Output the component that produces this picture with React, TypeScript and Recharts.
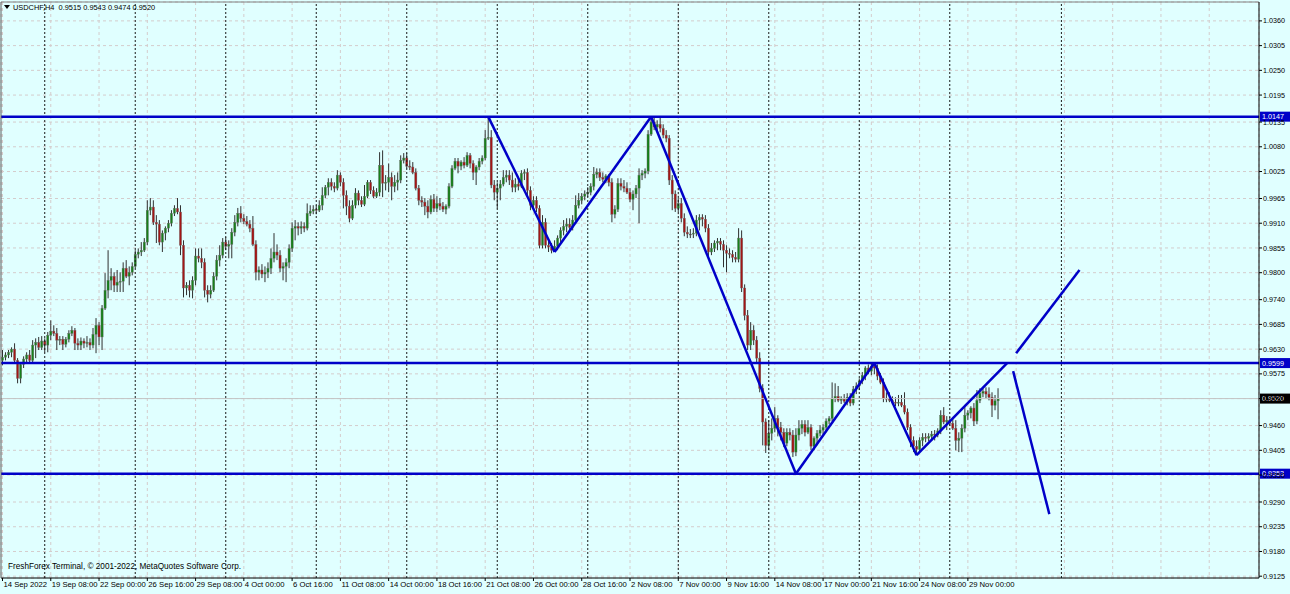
import React from 'react';
import { Bar, CartesianGrid, ComposedChart, ReferenceLine, XAxis, YAxis } from 'recharts';

// USDCHF H4, 14 Sep - 29 Nov 2022. Open of each bar = previous close.
const firstOpen = 0.9605;

const highs = [
  0.9628, 0.9623, 0.9628, 0.9634, 0.9643, 0.961, 0.9601, 0.9614, 0.9623, 0.9628,
  0.965, 0.9654, 0.9657, 0.9659, 0.9654, 0.9668, 0.9694, 0.9683, 0.9677, 0.9659,
  0.9659, 0.9657, 0.9672, 0.9681, 0.9677, 0.9654, 0.9656, 0.9654, 0.9659, 0.9654,
  0.9677, 0.9699, 0.969, 0.9728, 0.9799, 0.985, 0.981, 0.9801, 0.9806, 0.9801,
  0.9823, 0.9828, 0.9814, 0.9823, 0.985, 0.9854, 0.9868, 0.9877, 0.9961, 0.9966,
  0.9961, 0.9928, 0.9917, 0.9894, 0.9903, 0.9917, 0.9939, 0.995, 0.9966, 0.995,
  0.9872, 0.9779, 0.9783, 0.9792, 0.9854, 0.9854, 0.9854, 0.9832, 0.9772, 0.9772,
  0.9801, 0.9839, 0.9861, 0.9877, 0.9879, 0.9872, 0.9899, 0.9928, 0.9944, 0.9948,
  0.993, 0.9926, 0.9917, 0.9926, 0.9872, 0.9814, 0.9819, 0.9814, 0.9823, 0.9854,
  0.9888, 0.9863, 0.985, 0.9823, 0.9832, 0.9863, 0.9912, 0.9917, 0.9912, 0.9914,
  0.9912, 0.9954, 0.995, 0.995, 0.995, 0.9961, 0.999, 0.9995, 1.001, 1.001,
  1.0001, 1.0028, 1.0023, 1.001, 0.9983, 0.9961, 0.9961, 0.9988, 0.9983, 0.997,
  0.9995, 1.0006, 1.0006, 0.9992, 0.9988, 1.0068, 1.0072, 1.0017, 1.0043, 1.0023,
  1.0017, 1.0023, 1.0061, 1.0066, 1.0066, 1.005, 1.0046, 1.0032, 0.9995, 0.997,
  0.9966, 0.9961, 0.9972, 0.9975, 0.997, 0.9966, 0.9957, 0.9952, 0.9999, 1.0039,
  1.0055, 1.0055, 1.005, 1.0057, 1.0068, 1.0066, 1.005, 1.0039, 1.0055, 1.0061,
  1.0117, 1.0147, 1.0117, 1.0006, 1.0001, 1.0006, 1.0028, 1.0028, 1.0028, 1.0023,
  1.001, 1.001, 1.0028, 1.003, 1.0032, 0.9992, 0.997, 0.997, 0.995, 0.9928,
  0.9921, 0.9872, 0.9866, 0.9872, 0.9883, 0.9901, 0.9917, 0.9921, 0.9921, 0.9928,
  0.9972, 0.9977, 0.9977, 0.9983, 0.999, 0.9999, 1.0035, 1.0032, 1.0032, 1.0023,
  1.0019, 1.0019, 1.001, 0.995, 1.001, 1.001, 1.0006, 1.0001, 0.9988, 0.9983,
  0.9995, 1.0032, 1.0028, 1.0032, 1.0117, 1.0147, 1.0144, 1.0139, 1.0146, 1.013,
  1.0117, 1.0106, 1.0017, 0.9983, 0.9966, 0.9966, 0.9932, 0.9903, 0.9897, 0.9899,
  0.9928, 0.993, 0.993, 0.9928, 0.9908, 0.9866, 0.9872, 0.9877, 0.9877, 0.9872,
  0.9861, 0.9854, 0.985, 0.9846, 0.9899, 0.9894, 0.9774, 0.9717, 0.969, 0.9683,
  0.9659, 0.9623, 0.9552, 0.9476, 0.9472, 0.9476, 0.9501, 0.9483, 0.9468, 0.9454,
  0.9454, 0.9454, 0.945, 0.9454, 0.9472, 0.9472, 0.9472, 0.9472, 0.9463, 0.9436,
  0.945, 0.9461, 0.9463, 0.9476, 0.9481, 0.9556, 0.9554, 0.9548, 0.9525, 0.953,
  0.9532, 0.9532, 0.9548, 0.9556, 0.9565, 0.9579, 0.9592, 0.9596, 0.9599, 0.9598,
  0.9596, 0.9577, 0.9565, 0.9534, 0.9534, 0.9525, 0.9523, 0.9528, 0.9528, 0.9534,
  0.9498, 0.9463, 0.9436, 0.9427, 0.9434, 0.9443, 0.9443, 0.9443, 0.9448, 0.945,
  0.9454, 0.9494, 0.9501, 0.9481, 0.9479, 0.9476, 0.9472, 0.9445, 0.9463, 0.9501,
  0.9494, 0.9503, 0.951, 0.9539, 0.9543, 0.9543, 0.9545, 0.9545, 0.9534, 0.9528,
  0.9543,
];

const lows = [
  0.9594, 0.9605, 0.961, 0.9612, 0.9601, 0.9554, 0.9554, 0.9588, 0.9601, 0.9601,
  0.9601, 0.961, 0.9628, 0.9628, 0.9623, 0.9623, 0.965, 0.9659, 0.9628, 0.9639,
  0.9628, 0.9634, 0.9645, 0.9659, 0.9628, 0.9628, 0.9628, 0.9632, 0.9634, 0.9628,
  0.9632, 0.9621, 0.9639, 0.9628, 0.9717, 0.9743, 0.9761, 0.9757, 0.9757, 0.9757,
  0.9757, 0.9788, 0.9772, 0.9794, 0.981, 0.9832, 0.9837, 0.9846, 0.9861, 0.9928,
  0.9906, 0.9866, 0.9861, 0.9846, 0.9872, 0.989, 0.9903, 0.9926, 0.993, 0.9839,
  0.9745, 0.975, 0.9745, 0.9743, 0.9772, 0.9823, 0.981, 0.9745, 0.9734, 0.9743,
  0.9757, 0.9783, 0.9814, 0.9832, 0.985, 0.9832, 0.9832, 0.9881, 0.9903, 0.9912,
  0.9908, 0.9903, 0.989, 0.9859, 0.9783, 0.9783, 0.9788, 0.9779, 0.9788, 0.9797,
  0.9823, 0.9828, 0.9801, 0.9783, 0.9779, 0.981, 0.9846, 0.9872, 0.9883, 0.9886,
  0.989, 0.9894, 0.9926, 0.993, 0.993, 0.9935, 0.9939, 0.9966, 0.9972, 0.9983,
  0.9979, 0.9983, 0.9992, 0.9943, 0.9928, 0.9912, 0.9917, 0.9943, 0.995, 0.9946,
  0.9948, 0.9966, 0.9975, 0.9966, 0.9966, 0.997, 0.9968, 0.9983, 0.9979, 0.9961,
  0.9979, 0.9983, 0.9999, 1.0043, 1.0032, 1.0028, 1.0019, 0.9983, 0.995, 0.9946,
  0.9928, 0.9921, 0.993, 0.9935, 0.9935, 0.9939, 0.9935, 0.993, 0.9943, 0.9988,
  1.0028, 1.0021, 1.0028, 1.0032, 1.0035, 1.0032, 1.0006, 0.9995, 1.0028, 1.0041,
  1.005, 1.0095, 0.9988, 0.9961, 0.9943, 0.9961, 0.9992, 1.0001, 0.9995, 0.9979,
  0.9979, 0.9983, 0.9988, 1.0006, 0.9972, 0.9939, 0.9939, 0.9935, 0.9854, 0.9854,
  0.9854, 0.9846, 0.9843, 0.9846, 0.985, 0.9868, 0.9883, 0.989, 0.9894, 0.9894,
  0.9908, 0.9943, 0.9952, 0.9961, 0.9968, 0.9972, 0.9983, 1.001, 1.0004, 1.0001,
  0.9999, 0.9992, 0.9912, 0.9921, 0.9935, 0.9983, 0.9979, 0.9975, 0.9957, 0.9939,
  0.9966, 0.991, 1.0006, 1.001, 1.0019, 1.0104, 1.0117, 1.0112, 1.0112, 1.0099,
  1.009, 0.9995, 0.9939, 0.9935, 0.9935, 0.9912, 0.9881, 0.9877, 0.9877, 0.9877,
  0.9881, 0.9894, 0.9903, 0.989, 0.9834, 0.9839, 0.9846, 0.985, 0.985, 0.9812,
  0.9801, 0.9832, 0.9823, 0.9823, 0.9823, 0.9757, 0.9694, 0.9628, 0.9628, 0.9639,
  0.9601, 0.9534, 0.9416, 0.9399, 0.9405, 0.9427, 0.9445, 0.9436, 0.9427, 0.9412,
  0.9414, 0.9427, 0.939, 0.9392, 0.9427, 0.9441, 0.9436, 0.9441, 0.9405, 0.9405,
  0.9416, 0.9436, 0.9441, 0.9445, 0.9463, 0.947, 0.9512, 0.9512, 0.9508, 0.951,
  0.9505, 0.9503, 0.9505, 0.953, 0.9539, 0.9552, 0.9561, 0.9574, 0.9572, 0.9574,
  0.9561, 0.9552, 0.9512, 0.9512, 0.9512, 0.9507, 0.9503, 0.9503, 0.9501, 0.9485,
  0.945, 0.9412, 0.9401, 0.9394, 0.9403, 0.9414, 0.9423, 0.9425, 0.9427, 0.9427,
  0.9434, 0.9441, 0.9463, 0.945, 0.9459, 0.945, 0.9405, 0.9401, 0.9401, 0.9445,
  0.9472, 0.9476, 0.9459, 0.9463, 0.951, 0.9523, 0.9521, 0.9516, 0.9479, 0.9494,
  0.9474,
];

const closes = [
  0.9612, 0.9617, 0.9623, 0.963, 0.9605, 0.9565, 0.9596, 0.9608, 0.9617, 0.9605,
  0.9639, 0.9645, 0.9634, 0.9648, 0.9639, 0.9661, 0.967, 0.9665, 0.965, 0.9652,
  0.9641, 0.9652, 0.9665, 0.9672, 0.9643, 0.9639, 0.9648, 0.9643, 0.9645, 0.9639,
  0.9663, 0.9683, 0.9657, 0.9721, 0.9761, 0.9783, 0.9792, 0.9772, 0.9779, 0.9781,
  0.981, 0.9792, 0.9801, 0.9814, 0.9841, 0.9846, 0.985, 0.9868, 0.9939, 0.9946,
  0.9912, 0.9908, 0.9868, 0.9888, 0.9899, 0.991, 0.9932, 0.9943, 0.9935, 0.9861,
  0.9766, 0.9772, 0.9761, 0.9783, 0.9837, 0.9832, 0.9823, 0.9761, 0.9752, 0.9761,
  0.9792, 0.9828, 0.9839, 0.9868, 0.9859, 0.9863, 0.989, 0.9912, 0.9932, 0.9921,
  0.9914, 0.9908, 0.9899, 0.9863, 0.9801, 0.9806, 0.9797, 0.9801, 0.981, 0.9832,
  0.9846, 0.9839, 0.981, 0.9814, 0.9823, 0.9854, 0.9899, 0.9903, 0.9899, 0.9903,
  0.9899, 0.9932, 0.9937, 0.9941, 0.9939, 0.995, 0.9972, 0.999, 1.0001, 0.9992,
  0.9988, 1.0017, 1.0001, 0.9972, 0.9948, 0.9921, 0.995, 0.9977, 0.9961, 0.9952,
  0.997, 1.0001, 0.9983, 0.997, 0.9979, 1.0039, 0.9999, 1.0001, 1.0012, 0.9992,
  1.0001, 1.0006, 1.005, 1.0055, 1.0037, 1.0035, 1.0023, 0.9988, 0.9961, 0.9957,
  0.9948, 0.9935, 0.9963, 0.9943, 0.9954, 0.9948, 0.9941, 0.9948, 0.9992, 1.0032,
  1.0048, 1.0037, 1.0046, 1.0039, 1.0061, 1.0043, 1.0023, 1.0035, 1.0048, 1.0055,
  1.0099, 1.0101, 0.9995, 0.9979, 0.9988, 0.9997, 1.0012, 1.0017, 1.0006, 0.999,
  0.9997, 0.9992, 1.0021, 1.0023, 0.9983, 0.995, 0.9961, 0.9943, 0.9861, 0.9912,
  0.9861, 0.9857, 0.985, 0.9859, 0.9877, 0.9894, 0.9903, 0.9908, 0.9901, 0.9917,
  0.995, 0.9961, 0.997, 0.9975, 0.9979, 0.9992, 1.0019, 1.0023, 1.0012, 1.0008,
  1.0015, 1.0001, 0.993, 0.9941, 0.9999, 0.9992, 0.9988, 0.9979, 0.9963, 0.9975,
  0.9988, 1.0017, 1.0021, 1.0026, 1.0108, 1.0135, 1.0124, 1.013, 1.0121, 1.0106,
  1.0099, 1.0006, 0.9975, 0.9943, 0.9954, 0.9921, 0.989, 0.9886, 0.9886, 0.9888,
  0.9917, 0.9923, 0.9919, 0.9899, 0.9846, 0.9854, 0.9866, 0.987, 0.9863, 0.985,
  0.9843, 0.9841, 0.9834, 0.983, 0.9877, 0.9766, 0.9705, 0.9639, 0.9672, 0.965,
  0.961, 0.9543, 0.9468, 0.9416, 0.9443, 0.9454, 0.9476, 0.9456, 0.9445, 0.9421,
  0.9445, 0.9439, 0.9401, 0.9439, 0.9454, 0.9463, 0.9445, 0.9456, 0.9414, 0.9432,
  0.9443, 0.945, 0.9456, 0.947, 0.9476, 0.9521, 0.9525, 0.9516, 0.9519, 0.9514,
  0.9523, 0.951, 0.9541, 0.9548, 0.9559, 0.9572, 0.9588, 0.9581, 0.9592, 0.9588,
  0.957, 0.9556, 0.9521, 0.9519, 0.9516, 0.9512, 0.951, 0.9512, 0.9505, 0.949,
  0.9456, 0.9427, 0.9414, 0.9407, 0.9427, 0.9434, 0.9432, 0.9436, 0.9441, 0.9439,
  0.9448, 0.9483, 0.9468, 0.9472, 0.9465, 0.9454, 0.9427, 0.9432, 0.9454, 0.9483,
  0.9488, 0.9499, 0.947, 0.9516, 0.9532, 0.9536, 0.953, 0.9523, 0.9505, 0.9515,
  0.952,
];

// bar slots on the time axis (the right part is the empty chart shift)
const slotCount = 417;
const timeTickIdx = [0, 16, 32, 48, 64, 80, 96, 112, 128, 144, 160, 176, 192, 208, 224, 240, 256, 272, 288, 304, 320];
const timeLabels = [
  '14 Sep 2022', '19 Sep 08:00', '22 Sep 00:00', '26 Sep 16:00', '29 Sep 08:00', '4 Oct 00:00',
  '6 Oct 16:00', '11 Oct 08:00', '14 Oct 00:00', '18 Oct 16:00', '21 Oct 08:00', '26 Oct 00:00',
  '28 Oct 16:00', '2 Nov 08:00', '7 Nov 00:00', '9 Nov 16:00', '14 Nov 08:00', '17 Nov 00:00',
  '21 Nov 16:00', '24 Nov 08:00', '29 Nov 00:00',
];
const gridOnlyIdx = [336, 352, 368, 384, 400];
const weekSeparatorIdx = [14, 44, 74, 104, 134, 164, 194, 224, 254, 284, 314, 351];

const priceLabels = [
  '0.9125', '0.9180', '0.9235', '0.9290', '0.9350', '0.9405', '0.9460', '0.9520', '0.9575', '0.9630',
  '0.9685', '0.9740', '0.9800', '0.9855', '0.9910', '0.9965', '1.0025', '1.0080', '1.0135', '1.0195',
  '1.0250', '1.0305', '1.0360',
];
const priceTicks = priceLabels.map(Number);

const levelPrices = [1.0147, 0.9599, 0.9353];
const bidPrice = 0.952;

// zigzag drawn on the chart (bar index, price)
const zigzagIdx = [161, 183, 215, 263, 289, 303, 333];
const zigzagPrice = [1.0147, 0.9846, 1.0147, 0.9353, 0.9599, 0.9394, 0.9599];
const projUpIdx = [336, 357];
const projUpPrice = [0.9621, 0.9806];
const projDownIdx = [335, 347];
const projDownPrice = [0.9581, 0.9263];

const FONT = "'Liberation Sans', Arial, sans-serif";
const BLUE = '#0000c8';

type Row = { i: number; o?: number; h?: number; l?: number; c?: number };

const data: Row[] = Array.from({ length: slotCount }, (_, i) => {
  if (i >= closes.length) return { i };
  const o = i === 0 ? firstOpen : closes[i - 1];
  const c = closes[i];
  return { i, o, c, h: Math.max(highs[i], o, c), l: Math.min(lows[i], o, c) };
});

function Candle(props: any) {
  const { x, y, width, height, payload } = props;
  if (!payload || payload.c == null) return null;
  const { o, h, l, c } = payload as Required<Row>;
  const top = Math.min(y, y + height);
  const hh = Math.abs(height);
  const span = h - l;
  const py = (p: number) => (span > 0 ? top + ((h - p) / span) * hh : top);
  const cx = x + width / 2;
  const bTop = py(Math.max(o, c));
  const bBot = py(Math.min(o, c));
  const up = c > o;
  const flat = c === o;
  return (
    <g>
      <line x1={cx} x2={cx} y1={top} y2={top + hh} stroke="#303030" strokeWidth={1} />
      <rect
        x={cx - 1.1}
        y={bTop}
        width={2.2}
        height={Math.max(bBot - bTop, 1)}
        fill={flat ? '#303030' : up ? '#17801a' : '#a31616'}
        stroke="#6e6e6e"
        strokeWidth={0.4}
      />
    </g>
  );
}

function PriceTick(props: any) {
  const { x, y, payload } = props;
  const k = priceTicks.indexOf(payload.value);
  return (
    <g>
      <line x1={x} x2={x + 3} y1={y} y2={y} stroke="#000" />
      <text x={x + 4} y={y + 2.6} fontSize={7.2} fontFamily={FONT} fill="#000">
        {k >= 0 ? priceLabels[k] : ''}
      </text>
    </g>
  );
}

function TimeTick(props: any) {
  const { x, y, payload } = props;
  const k = timeTickIdx.indexOf(payload.value);
  if (k < 0) return null;
  return (
    <g>
      <line x1={x} x2={x} y1={y} y2={y + 3} stroke="#000" />
      <text x={x + 1} y={y + 8.5} fontSize={7.7} fontFamily={FONT} fill="#000">
        {timeLabels[k]}
      </text>
    </g>
  );
}

function PriceTag(props: any) {
  const { viewBox, text, fill } = props;
  if (!viewBox) return null;
  const x = viewBox.x + viewBox.width + 1;
  const y = viewBox.y;
  return (
    <g>
      <rect x={x} y={y - 5} width={30} height={10} fill={fill} />
      <text x={x + 2} y={y + 2.7} fontSize={7.2} fontFamily={FONT} fill="#fff">
        {text}
      </text>
    </g>
  );
}

export default function App() {
  return (
    <div style={{ position: 'absolute', left: 0, top: 0, width: 1290, height: 594, background: '#e0ffff', overflow: 'hidden' }}>
      <ComposedChart
        width={1290}
        height={594}
        data={data}
        margin={{ top: 1, right: 0, bottom: 2, left: 0 }}
        barCategoryGap={0}
        barGap={0}
      >
        <CartesianGrid stroke="#d4cccc" strokeDasharray="3 3" />
        <XAxis
          dataKey="i"
          type="category"
          height={14}
          ticks={[...timeTickIdx, ...gridOnlyIdx]}
          interval={0}
          tickSize={0}
          tickMargin={0}
          tickLine={false}
          tick={<TimeTick />}
          axisLine={{ stroke: '#000' }}
        />
        <XAxis xAxisId="top" dataKey="i" orientation="top" height={1} tick={false} tickLine={false} axisLine={{ stroke: '#808080' }} />
        <YAxis
          orientation="right"
          type="number"
          width={31}
          domain={[0.9121, 1.0402]}
          allowDataOverflow
          ticks={priceTicks}
          interval={0}
          tickSize={0}
          tickMargin={0}
          tickLine={false}
          tick={<PriceTick />}
          axisLine={{ stroke: '#000' }}
        />
        <YAxis yAxisId="frame" orientation="left" type="number" width={1} domain={[0, 1]} tick={false} tickLine={false} axisLine={{ stroke: '#606060' }} />
        {weekSeparatorIdx.map((s) => (
          <ReferenceLine key={'sep' + s} x={s} stroke="#1a1a1a" strokeDasharray="2 2" strokeWidth={1} />
        ))}
        <ReferenceLine y={bidPrice} stroke="#c4c4c4" strokeWidth={1} label={<PriceTag text={bidPrice.toFixed(4)} fill="#000" />} />
        <Bar dataKey={(d: Row) => (d.c == null ? undefined : [d.l, d.h])} shape={<Candle />} isAnimationActive={false} />
        {levelPrices.map((p) => (
          <ReferenceLine key={'lvl' + p} y={p} stroke={BLUE} strokeWidth={2.5} label={<PriceTag text={p.toFixed(4)} fill={BLUE} />} />
        ))}
        {zigzagIdx.slice(1).map((b, k) => (
          <ReferenceLine
            key={'zz' + k}
            segment={[
              { x: zigzagIdx[k], y: zigzagPrice[k] },
              { x: b, y: zigzagPrice[k + 1] },
            ]}
            stroke={BLUE}
            strokeWidth={2.5}
            ifOverflow="visible"
          />
        ))}
        <ReferenceLine
          segment={[
            { x: projUpIdx[0], y: projUpPrice[0] },
            { x: projUpIdx[1], y: projUpPrice[1] },
          ]}
          stroke={BLUE}
          strokeWidth={2.5}
          ifOverflow="visible"
        />
        <ReferenceLine
          segment={[
            { x: projDownIdx[0], y: projDownPrice[0] },
            { x: projDownIdx[1], y: projDownPrice[1] },
          ]}
          stroke={BLUE}
          strokeWidth={2.5}
          ifOverflow="visible"
        />
      </ComposedChart>
      <svg style={{ position: 'absolute', left: 4, top: 5 }} width={6} height={5}>
        <polygon points="0,0 6,0 3,4" fill="#000" />
      </svg>
      <div style={{ position: 'absolute', left: 13, top: 3, fontFamily: FONT, fontSize: 7.4, lineHeight: '9px', whiteSpace: 'pre', color: '#000' }}>
        USDCHF,H4  0.9515 0.9543 0.9474 0.9520
      </div>
      <div style={{ position: 'absolute', left: 8, top: 562, fontFamily: FONT, fontSize: 8.2, lineHeight: '10px', whiteSpace: 'pre', color: '#000' }}>
        FreshForex Terminal, © 2001-2022, MetaQuotes Software Corp.
      </div>
    </div>
  );
}
